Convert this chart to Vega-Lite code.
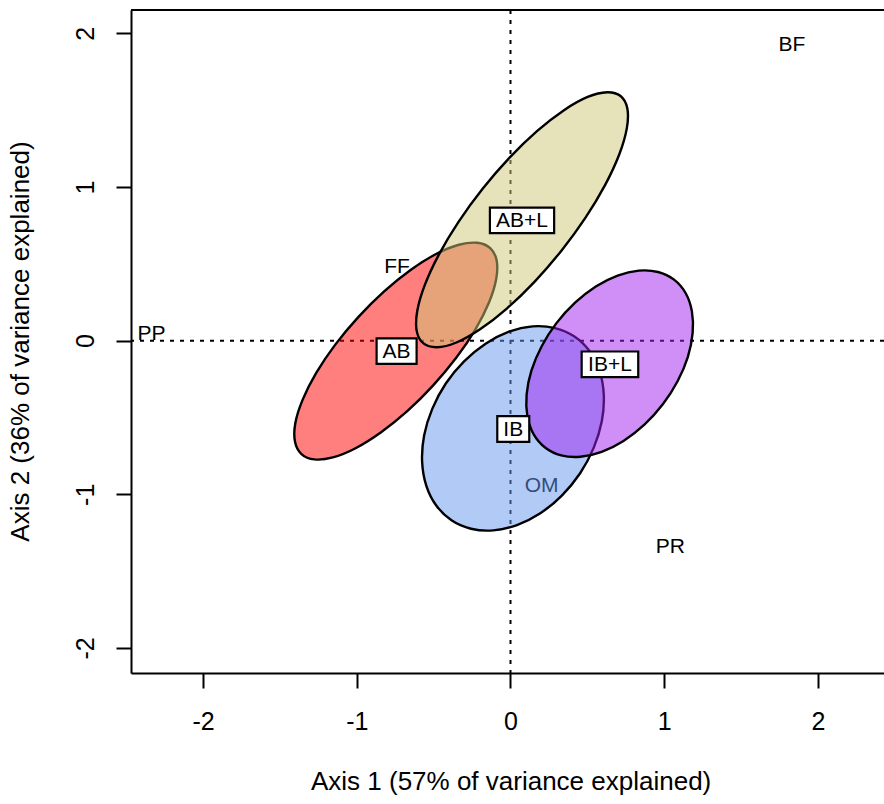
{
  "$schema": "https://vega.github.io/schema/vega-lite/v6.json",
  "width": 753,
  "height": 663,
  "autosize": {"type": "none"},
  "padding": {"left": 131, "top": 10, "right": 0, "bottom": 131},
  "background": "white",
  "config": {
    "view": {"stroke": null},
    "font": "Liberation Sans",
    "axis": {
      "grid": false,
      "domainColor": "black",
      "domainWidth": 2,
      "tickColor": "black",
      "tickWidth": 2,
      "tickSize": 15,
      "labelColor": "black",
      "labelFont": "Liberation Sans",
      "labelFontSize": 25,
      "titleFont": "Liberation Sans",
      "titleFontSize": 26,
      "titleFontWeight": "normal",
      "titleColor": "black"
    }
  },
  "datasets": {
    "one": [{}],
    "species": [
      {"name": "BF", "x": 1.831, "y": 1.922},
      {"name": "PR", "x": 1.040, "y": -1.345},
      {"name": "FF", "x": -0.738, "y": 0.479},
      {"name": "PP", "x": -2.335, "y": 0.043},
      {"name": "OM", "x": 0.202, "y": -0.944}
    ],
    "groups": [
      {"name": "AB", "x": -0.741, "y": -0.068},
      {"name": "AB+L", "x": 0.075, "y": 0.783},
      {"name": "IB", "x": 0.018, "y": -0.575},
      {"name": "IB+L", "x": 0.647, "y": -0.154}
    ],
    "ellAB": [
      {"i": 0, "x": -0.132, "y": 0.602}, {"i": 1, "x": -0.216, "y": 0.637}, {"i": 2, "x": -0.336, "y": 0.624},
      {"i": 3, "x": -0.484, "y": 0.564}, {"i": 4, "x": -0.650, "y": 0.460}, {"i": 5, "x": -0.822, "y": 0.321},
      {"i": 6, "x": -0.989, "y": 0.155}, {"i": 7, "x": -1.140, "y": -0.026}, {"i": 8, "x": -1.264, "y": -0.210},
      {"i": 9, "x": -1.352, "y": -0.384}, {"i": 10, "x": -1.400, "y": -0.537}, {"i": 11, "x": -1.402, "y": -0.658},
      {"i": 12, "x": -1.360, "y": -0.738}, {"i": 13, "x": -1.276, "y": -0.773}, {"i": 14, "x": -1.156, "y": -0.760},
      {"i": 15, "x": -1.008, "y": -0.700}, {"i": 16, "x": -0.842, "y": -0.596}, {"i": 17, "x": -0.670, "y": -0.457},
      {"i": 18, "x": -0.503, "y": -0.291}, {"i": 19, "x": -0.352, "y": -0.110}, {"i": 20, "x": -0.228, "y": 0.074},
      {"i": 21, "x": -0.140, "y": 0.248}, {"i": 22, "x": -0.093, "y": 0.401}, {"i": 23, "x": -0.090, "y": 0.522}
    ],
    "ellABL": [
      {"i": 0, "x": 0.716, "y": 1.592}, {"i": 1, "x": 0.628, "y": 1.617}, {"i": 2, "x": 0.502, "y": 1.586},
      {"i": 3, "x": 0.348, "y": 1.500}, {"i": 4, "x": 0.174, "y": 1.365}, {"i": 5, "x": -0.006, "y": 1.191},
      {"i": 6, "x": -0.180, "y": 0.990}, {"i": 7, "x": -0.337, "y": 0.775}, {"i": 8, "x": -0.466, "y": 0.560},
      {"i": 9, "x": -0.558, "y": 0.361}, {"i": 10, "x": -0.607, "y": 0.191}, {"i": 11, "x": -0.610, "y": 0.062},
      {"i": 12, "x": -0.566, "y": -0.018}, {"i": 13, "x": -0.478, "y": -0.043}, {"i": 14, "x": -0.352, "y": -0.012},
      {"i": 15, "x": -0.198, "y": 0.074}, {"i": 16, "x": -0.024, "y": 0.209}, {"i": 17, "x": 0.156, "y": 0.383},
      {"i": 18, "x": 0.330, "y": 0.584}, {"i": 19, "x": 0.487, "y": 0.799}, {"i": 20, "x": 0.616, "y": 1.014},
      {"i": 21, "x": 0.708, "y": 1.213}, {"i": 22, "x": 0.757, "y": 1.383}, {"i": 23, "x": 0.760, "y": 1.512}
    ],
    "ellIB": [
      {"i": 0, "x": 0.416, "y": 0.027}, {"i": 1, "x": 0.289, "y": 0.082}, {"i": 2, "x": 0.144, "y": 0.093},
      {"i": 3, "x": -0.010, "y": 0.058}, {"i": 4, "x": -0.162, "y": -0.020}, {"i": 5, "x": -0.302, "y": -0.135},
      {"i": 6, "x": -0.421, "y": -0.279}, {"i": 7, "x": -0.509, "y": -0.444}, {"i": 8, "x": -0.562, "y": -0.617},
      {"i": 9, "x": -0.575, "y": -0.787}, {"i": 10, "x": -0.548, "y": -0.943}, {"i": 11, "x": -0.483, "y": -1.073},
      {"i": 12, "x": -0.384, "y": -1.169}, {"i": 13, "x": -0.257, "y": -1.224}, {"i": 14, "x": -0.112, "y": -1.235},
      {"i": 15, "x": 0.042, "y": -1.200}, {"i": 16, "x": 0.194, "y": -1.123}, {"i": 17, "x": 0.334, "y": -1.008},
      {"i": 18, "x": 0.453, "y": -0.863}, {"i": 19, "x": 0.541, "y": -0.698}, {"i": 20, "x": 0.594, "y": -0.525},
      {"i": 21, "x": 0.607, "y": -0.355}, {"i": 22, "x": 0.580, "y": -0.199}, {"i": 23, "x": 0.515, "y": -0.069}
    ],
    "ellIBL": [
      {"i": 0, "x": 1.064, "y": 0.397}, {"i": 1, "x": 0.960, "y": 0.447}, {"i": 2, "x": 0.835, "y": 0.456},
      {"i": 3, "x": 0.697, "y": 0.424}, {"i": 4, "x": 0.555, "y": 0.353}, {"i": 5, "x": 0.420, "y": 0.247},
      {"i": 6, "x": 0.299, "y": 0.114}, {"i": 7, "x": 0.203, "y": -0.036}, {"i": 8, "x": 0.136, "y": -0.195},
      {"i": 9, "x": 0.105, "y": -0.350}, {"i": 10, "x": 0.110, "y": -0.492}, {"i": 11, "x": 0.151, "y": -0.610},
      {"i": 12, "x": 0.227, "y": -0.697}, {"i": 13, "x": 0.330, "y": -0.747}, {"i": 14, "x": 0.455, "y": -0.756},
      {"i": 15, "x": 0.593, "y": -0.724}, {"i": 16, "x": 0.735, "y": -0.653}, {"i": 17, "x": 0.871, "y": -0.547},
      {"i": 18, "x": 0.991, "y": -0.414}, {"i": 19, "x": 1.087, "y": -0.264}, {"i": 20, "x": 1.154, "y": -0.105},
      {"i": 21, "x": 1.185, "y": 0.050}, {"i": 22, "x": 1.180, "y": 0.192}, {"i": 23, "x": 1.139, "y": 0.310}
    ]
  },
  "layer": [
    {
      "data": {"name": "species"},
      "mark": {"type": "text", "fontSize": 21, "font": "Liberation Sans", "color": "black", "align": "center", "baseline": "middle"},
      "encoding": {
        "x": {
          "field": "x", "type": "quantitative",
          "scale": {"domain": [-2.469, 2.43], "nice": false, "zero": false},
          "axis": {
            "orient": "bottom",
            "values": [-2, -1, 0, 1, 2],
            "labelExpr": "'' + datum.value",
            "labelPadding": 21,
            "labelFlush": false,
            "title": "Axis 1 (57% of variance explained)",
            "titleX": 379.6,
            "titleY": 108,
            "titleAlign": "center",
            "titleBaseline": "middle",
            "titleAngle": 0
          }
        },
        "y": {
          "field": "y", "type": "quantitative",
          "scale": {"domain": [-2.163, 2.152], "nice": false, "zero": false},
          "axis": {
            "orient": "left",
            "values": [-2, -1, 0, 1, 2],
            "labelExpr": "'' + datum.value",
            "labelAngle": -90,
            "labelAlign": "center",
            "labelBaseline": "bottom",
            "labelPadding": 18,
            "labelFlush": false,
            "title": "Axis 2 (36% of variance explained)",
            "titleX": -111,
            "titleY": 331,
            "titleAngle": -90,
            "titleAlign": "center",
            "titleBaseline": "middle"
          }
        },
        "text": {"field": "name", "type": "nominal"}
      }
    },
    {
      "data": {"name": "one"},
      "mark": {"type": "rule", "color": "black", "strokeWidth": 2, "strokeDash": [4, 6]},
      "encoding": {"x": {"datum": 0}}
    },
    {
      "data": {"name": "one"},
      "mark": {"type": "rule", "color": "black", "strokeWidth": 2, "strokeDash": [4, 6]},
      "encoding": {"y": {"datum": 0}}
    },
    {
      "data": {"name": "ellAB"},
      "mark": {"type": "line", "interpolate": "cardinal-closed", "fill": "#FF0000", "fillOpacity": 0.5, "stroke": "black", "strokeWidth": 2.4},
      "encoding": {"x": {"field": "x", "type": "quantitative"}, "y": {"field": "y", "type": "quantitative"}, "order": {"field": "i", "type": "quantitative"}}
    },
    {
      "data": {"name": "ellABL"},
      "mark": {"type": "line", "interpolate": "cardinal-closed", "fill": "#CDC673", "fillOpacity": 0.5, "stroke": "black", "strokeWidth": 2.4},
      "encoding": {"x": {"field": "x", "type": "quantitative"}, "y": {"field": "y", "type": "quantitative"}, "order": {"field": "i", "type": "quantitative"}}
    },
    {
      "data": {"name": "ellIB"},
      "mark": {"type": "line", "interpolate": "cardinal-closed", "fill": "#6495ED", "fillOpacity": 0.5, "stroke": "black", "strokeWidth": 2.4},
      "encoding": {"x": {"field": "x", "type": "quantitative"}, "y": {"field": "y", "type": "quantitative"}, "order": {"field": "i", "type": "quantitative"}}
    },
    {
      "data": {"name": "ellIBL"},
      "mark": {"type": "line", "interpolate": "cardinal-closed", "fill": "#A020F0", "fillOpacity": 0.5, "stroke": "black", "strokeWidth": 2.4},
      "encoding": {"x": {"field": "x", "type": "quantitative"}, "y": {"field": "y", "type": "quantitative"}, "order": {"field": "i", "type": "quantitative"}}
    },
    {
      "data": {"name": "groups"},
      "mark": {"type": "point", "filled": true, "fill": "white", "fillOpacity": 1, "opacity": 1, "stroke": "black", "strokeWidth": 2.2, "strokeOpacity": 1, "size": 655},
      "encoding": {
        "x": {"field": "x", "type": "quantitative"},
        "y": {"field": "y", "type": "quantitative"},
        "shape": {
          "field": "name", "type": "nominal", "legend": null,
          "scale": {
            "domain": ["AB", "AB+L", "IB", "IB+L"],
            "range": [
              "M-1.5625,-1L1.5625,-1L1.5625,1L-1.5625,1Z",
              "M-2.51,-1L2.51,-1L2.51,1L-2.51,1Z",
              "M-1.25,-1L1.25,-1L1.25,1L-1.25,1Z",
              "M-2.21,-1L2.21,-1L2.21,1L-2.21,1Z"
            ]
          }
        }
      }
    },
    {
      "data": {"name": "groups"},
      "mark": {"type": "text", "fontSize": 21, "font": "Liberation Sans", "color": "black", "align": "center", "baseline": "middle", "dy": 1},
      "encoding": {
        "x": {"field": "x", "type": "quantitative"},
        "y": {"field": "y", "type": "quantitative"},
        "text": {"field": "name", "type": "nominal"}
      }
    },
    {
      "data": {"name": "one"},
      "mark": {"type": "rule", "color": "black", "strokeWidth": 2},
      "encoding": {"y": {"datum": 2.152}}
    }
  ]
}
